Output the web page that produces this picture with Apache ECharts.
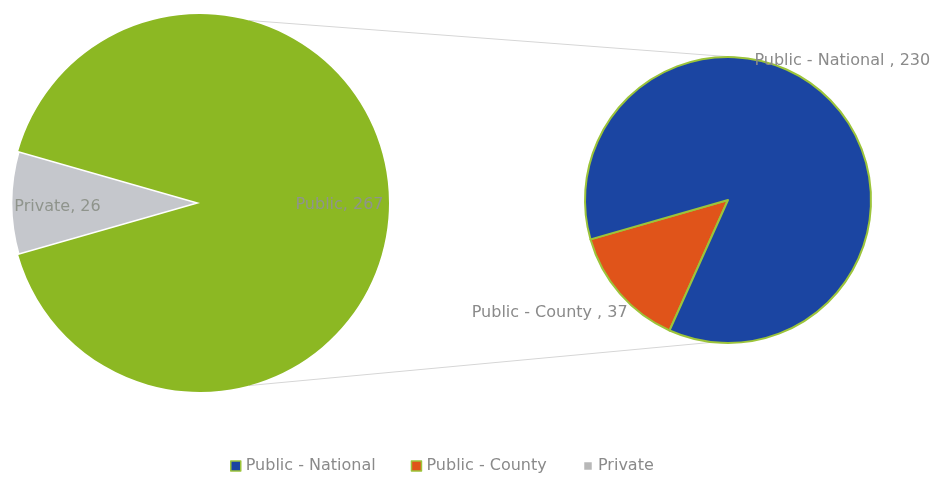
<!DOCTYPE html>
<html>
<head>
<meta charset="utf-8">
<script src="https://cdn.jsdelivr.net/npm/echarts@6/dist/echarts.min.js"></script>
<style>html,body{margin:0;padding:0;background:#fff}#c{width:935px;height:480px}</style>
</head>
<body>
<div id="c"></div>
<script>
// ---- data ----
const mainCategories = ['Private', 'Public'];
const mainValues = [26, 267];
const subCategories = ['Public - County', 'Public - National'];
const subValues = [37, 230];
const legendNames = ['Public - National', 'Public - County', 'Private'];

// ---- layout / style ----
const C = { green: '#8cb823', gray: '#c5c7cc', blue: '#1b45a2', orange: '#e0541a' };
const L = { cx: 200, cy: 203, r: 189 };
const R = { cx: 728, cy: 200, r: 143 };
const total = mainValues.reduce((a, b) => a + b, 0);
const privAngle = mainValues[0] / total * 360;
const startMain = 180 + privAngle / 2;

function pt(c, deg) {
  const a = deg * Math.PI / 180;
  return [c.cx + c.r * Math.cos(a), c.cy - c.r * Math.sin(a)];
}
const t1 = pt(L, 75), t2 = pt(R, 87), b1 = pt(L, -75), b2 = pt(R, -96);

const font = '"DejaVu Sans", "Open Sans", sans-serif';
const chart = echarts.init(document.getElementById('c'));
chart.setOption({
  animation: false,
  textStyle: { fontFamily: font },
  color: [C.gray, C.green],
  legend: {
    data: [
      { name: legendNames[0], itemStyle: { color: C.blue, borderColor: '#9cc43a', borderWidth: 1.5 } },
      { name: legendNames[1], itemStyle: { color: C.orange, borderColor: '#9cc43a', borderWidth: 1.5 } },
      { name: legendNames[2], itemStyle: { color: '#b8b8b8', borderColor: '#fff', borderWidth: 2.5 } }
    ],
    bottom: 1, left: 225,
    icon: 'rect', itemWidth: 10, itemHeight: 10, itemGap: 35,
    textStyle: { color: '#8a8a8a', fontSize: 16, fontFamily: font }
  },
  graphic: [
    { type: 'line', z: -1, shape: { x1: t1[0], y1: t1[1], x2: t2[0], y2: t2[1] }, style: { stroke: '#d6d6d6', lineWidth: 1 } },
    { type: 'line', z: -1, shape: { x1: b1[0], y1: b1[1], x2: b2[0], y2: b2[1] }, style: { stroke: '#d6d6d6', lineWidth: 1 } }
  ],
  series: [
    {
      type: 'pie', center: [L.cx, L.cy], radius: [0, L.r],
      startAngle: startMain, clockwise: true, silent: true,
      data: mainCategories.map((n, i) => ({
        name: n, value: mainValues[i],
        itemStyle: i === 0 ? { color: C.gray, borderColor: '#fff', borderWidth: 3 } : { color: C.green, borderWidth: 0 }
      })),
      label: {
        position: 'inside', fontSize: 16, color: '#8f948c', fontFamily: font,
        formatter: p => p.name + ', ' + p.value
      },
      labelLayout: p => (p.dataIndex === 0 ? { dx: -45, dy: 4 } : { dx: 42, dy: 2 }),
      labelLine: { show: false }
    },
    {
      type: 'pie', center: [R.cx, R.cy], radius: [0, R.r],
      startAngle: startMain, clockwise: false, silent: true,
      data: subCategories.map((n, i) => ({
        name: n, value: subValues[i],
        itemStyle: { color: i === 0 ? C.orange : C.blue }
      })),
      itemStyle: { borderColor: '#9cc43a', borderWidth: 2 },
      label: {
        position: 'inside', fontSize: 16, color: '#8a8a8a', fontFamily: font,
        formatter: p => p.name + ' , ' + p.value
      },
      labelLayout: p => (p.dataIndex === 0 ? { dx: -122, dy: 64 } : { dx: 58, dy: -90 }),
      labelLine: { show: false }
    }
  ]
});
</script>
</body>
</html>
